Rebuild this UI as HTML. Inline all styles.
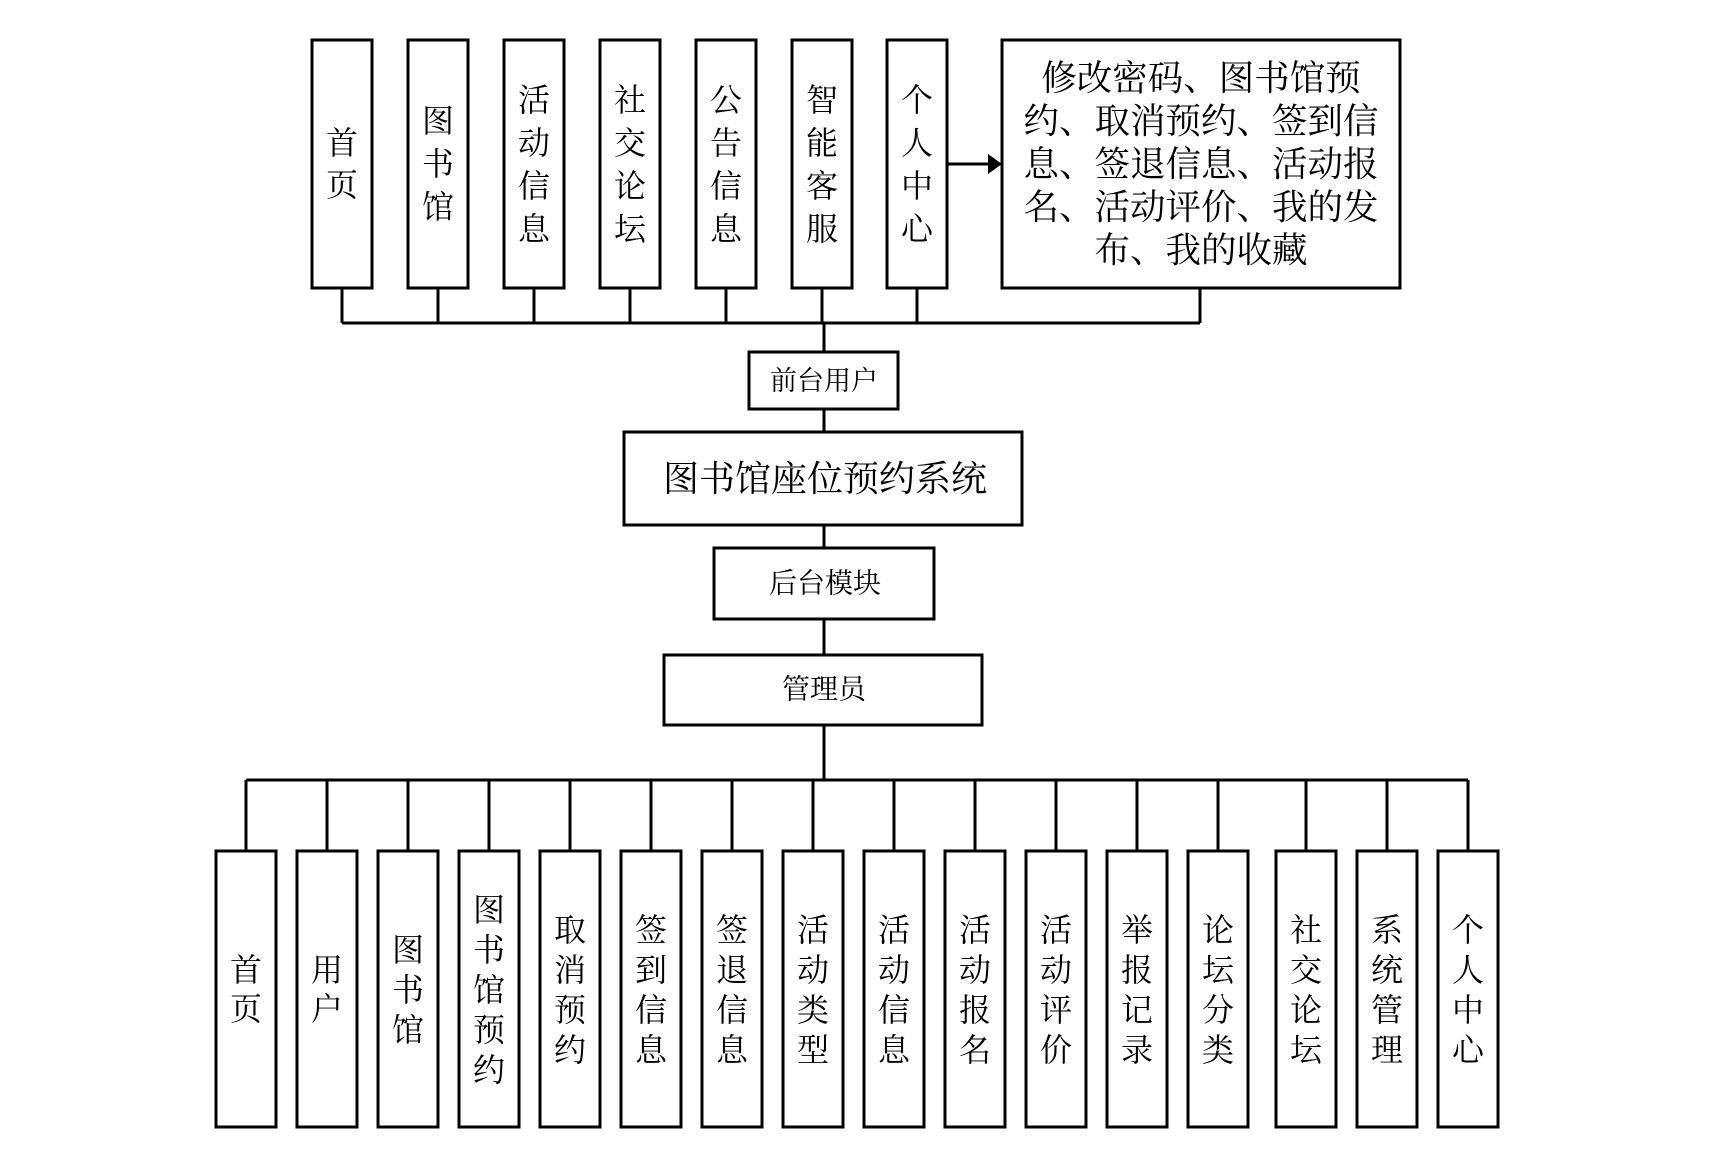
<!DOCTYPE html>
<html><head><meta charset="utf-8"><style>
html,body{margin:0;padding:0;background:#fff;}
svg{display:block;}
text{font-family:"Liberation Serif","Noto Serif CJK SC",serif;fill:#000;}
</style></head><body>
<svg width="1721" height="1159" viewBox="0 0 1721 1159" xmlns="http://www.w3.org/2000/svg">
<g fill="#fff" stroke="#000" stroke-width="3">
<rect x="312" y="40" width="60" height="248"/>
<rect x="408" y="40" width="60" height="248"/>
<rect x="504" y="40" width="60" height="248"/>
<rect x="600" y="40" width="60" height="248"/>
<rect x="696" y="40" width="60" height="248"/>
<rect x="792" y="40" width="60" height="248"/>
<rect x="887" y="40" width="60" height="248"/>
<rect x="1002" y="40" width="398" height="248"/>
<rect x="749" y="352" width="149" height="57"/>
<rect x="624" y="432" width="398" height="93"/>
<rect x="714" y="548" width="220" height="71"/>
<rect x="664" y="655" width="318" height="70"/>
</g>
<g fill="none" stroke="#000" stroke-width="3">
<path d="M342 288V323M438 288V323M534 288V323M630 288V323M726 288V323M822 288V323M917 288V323M1200 288V323M342 323H1200"/>
<path d="M824 323V352M824 409V432M824 525V548M824 619V655M824 725V780"/>
<path d="M246 780H1468"/>
<path d="M947 164H990"/>
</g>
<polygon points="988,154 1002,164 988,174" fill="#000"/>
<g fill="#fff" stroke="#000" stroke-width="3">
<rect x="216" y="851" width="60" height="276"/>
<rect x="297" y="851" width="60" height="276"/>
<rect x="378" y="851" width="60" height="276"/>
<rect x="459" y="851" width="60" height="276"/>
<rect x="540" y="851" width="60" height="276"/>
<rect x="621" y="851" width="60" height="276"/>
<rect x="702" y="851" width="60" height="276"/>
<rect x="783" y="851" width="60" height="276"/>
<rect x="864" y="851" width="60" height="276"/>
<rect x="945" y="851" width="60" height="276"/>
<rect x="1026" y="851" width="60" height="276"/>
<rect x="1107" y="851" width="60" height="276"/>
<rect x="1188" y="851" width="60" height="276"/>
<rect x="1276" y="851" width="60" height="276"/>
<rect x="1357" y="851" width="60" height="276"/>
<rect x="1438" y="851" width="60" height="276"/>
</g>
<g fill="none" stroke="#000" stroke-width="3">
<path d="M246 780V851M327 780V851M408 780V851M489 780V851M570 780V851M651 780V851M732 780V851M813 780V851M894 780V851M975 780V851M1056 780V851M1137 780V851M1218 780V851M1306 780V851M1387 780V851M1468 780V851"/>
</g>
<g font-size="32" text-anchor="middle" dominant-baseline="central">
<text x="342" y="143">首</text><text x="342" y="185">页</text>
<text x="438" y="121">图</text><text x="438" y="164">书</text><text x="438" y="207">馆</text>
<text x="534" y="100">活</text><text x="534" y="143">动</text><text x="534" y="186">信</text><text x="534" y="229">息</text>
<text x="630" y="100">社</text><text x="630" y="143">交</text><text x="630" y="186">论</text><text x="630" y="229">坛</text>
<text x="726" y="100">公</text><text x="726" y="143">告</text><text x="726" y="186">信</text><text x="726" y="229">息</text>
<text x="822" y="100">智</text><text x="822" y="143">能</text><text x="822" y="186">客</text><text x="822" y="229">服</text>
<text x="917" y="100">个</text><text x="917" y="143">人</text><text x="917" y="186">中</text><text x="917" y="229">心</text>
</g>
<g font-size="35.5" text-anchor="middle" dominant-baseline="central">
<text x="1201" y="78">修改密码、图书馆预</text>
<text x="1201" y="121">约、取消预约、签到信</text>
<text x="1201" y="164">息、签退信息、活动报</text>
<text x="1201" y="207">名、活动评价、我的发</text>
<text x="1201" y="250">布、我的收藏</text>
</g>
<g text-anchor="middle" dominant-baseline="central">
<text x="824" y="381" font-size="27">前台用户</text>
<text x="825" y="479" font-size="36">图书馆座位预约系统</text>
<text x="825" y="584" font-size="28">后台模块</text>
<text x="824" y="690" font-size="28">管理员</text>
</g>
<g font-size="32" text-anchor="middle" dominant-baseline="central">
<text x="246" y="970">首</text><text x="246" y="1009">页</text>
<text x="327" y="970">用</text><text x="327" y="1009">户</text>
<text x="408" y="950">图</text><text x="408" y="990">书</text><text x="408" y="1030">馆</text>
<text x="489" y="910">图</text><text x="489" y="950">书</text><text x="489" y="990">馆</text><text x="489" y="1030">预</text><text x="489" y="1070">约</text>
<text x="570" y="930">取</text><text x="570" y="970">消</text><text x="570" y="1010">预</text><text x="570" y="1050">约</text>
<text x="651" y="930">签</text><text x="651" y="970">到</text><text x="651" y="1010">信</text><text x="651" y="1050">息</text>
<text x="732" y="930">签</text><text x="732" y="970">退</text><text x="732" y="1010">信</text><text x="732" y="1050">息</text>
<text x="813" y="930">活</text><text x="813" y="970">动</text><text x="813" y="1010">类</text><text x="813" y="1050">型</text>
<text x="894" y="930">活</text><text x="894" y="970">动</text><text x="894" y="1010">信</text><text x="894" y="1050">息</text>
<text x="975" y="930">活</text><text x="975" y="970">动</text><text x="975" y="1010">报</text><text x="975" y="1050">名</text>
<text x="1056" y="930">活</text><text x="1056" y="970">动</text><text x="1056" y="1010">评</text><text x="1056" y="1050">价</text>
<text x="1137" y="930">举</text><text x="1137" y="970">报</text><text x="1137" y="1010">记</text><text x="1137" y="1050">录</text>
<text x="1218" y="930">论</text><text x="1218" y="970">坛</text><text x="1218" y="1010">分</text><text x="1218" y="1050">类</text>
<text x="1306" y="930">社</text><text x="1306" y="970">交</text><text x="1306" y="1010">论</text><text x="1306" y="1050">坛</text>
<text x="1387" y="930">系</text><text x="1387" y="970">统</text><text x="1387" y="1010">管</text><text x="1387" y="1050">理</text>
<text x="1468" y="930">个</text><text x="1468" y="970">人</text><text x="1468" y="1010">中</text><text x="1468" y="1050">心</text>
</g>
</svg>
</body></html>
